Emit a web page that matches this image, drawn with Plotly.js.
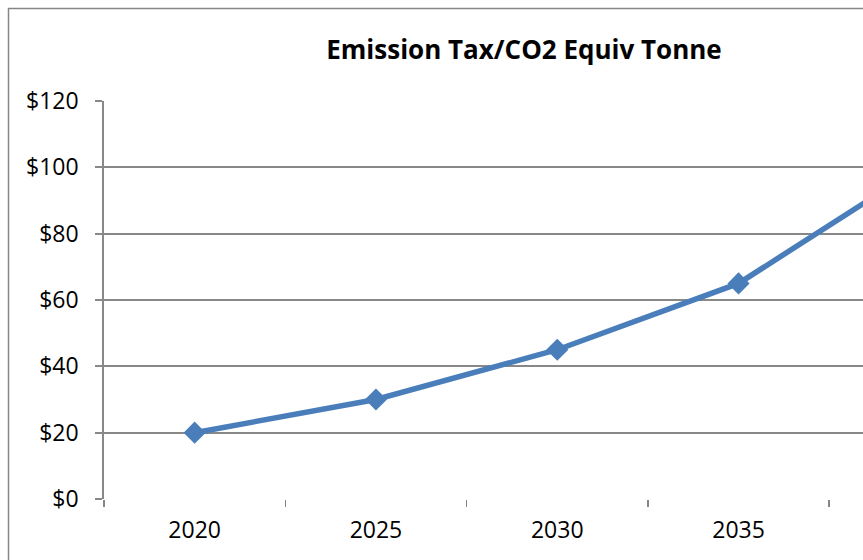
<!DOCTYPE html>
<html>
<head>
<meta charset="utf-8">
<script src="https://cdn.plot.ly/plotly-3.0.1.min.js"></script>
<style>html,body{margin:0;padding:0;background:#fff;}#chart{width:863px;height:560px;}</style>
</head>
<body>
<div id="chart"></div>
<script>
const years = ["2020", "2025", "2030", "2035", "2040"];
const taxPerTonne = [20, 30, 45, 65, 100];
const yTickValues = [0, 20, 40, 60, 80, 100, 120];
const yTickLabels = ["$0", "$20", "$40", "$60", "$80", "$100", "$120"];
const chartTitle = "Emission Tax/CO2 Equiv Tonne";

const W = 863, H = 560;
const L = 104, R = 0, T = 101, B = 61;
const pw = W - L - R, ph = H - T - B;
const px = v => (v - L) / pw;
const py = v => (H - B - v) / ph;

const trace = {
  x: years,
  y: taxPerTonne,
  type: "scatter",
  mode: "lines+markers",
  line: {color: "#4A7EBB", width: 5.5},
  marker: {symbol: "diamond", size: 17, color: "#4A7EBB"},
  hoverinfo: "skip"
};

const layout = {
  width: W, height: H,
  margin: {l: L, r: R, t: T, b: B, pad: 0},
  paper_bgcolor: "#ffffff",
  plot_bgcolor: "#ffffff",
  showlegend: false,
  font: {family: "Open Sans, sans-serif", color: "#000000", size: 23},
  title: {
    text: "<b>" + chartTitle + "</b>",
    font: {family: "Open Sans, sans-serif", size: 26, color: "#000000"},
    x: 524 / W, xref: "container", xanchor: "center",
    y: 1 - 50 / H, yref: "container", yanchor: "middle"
  },
  xaxis: {
    type: "category",
    range: [-0.5, -0.5 + pw / 181.3],
    showgrid: false,
    showline: false,
    zeroline: false,
    ticks: "outside",
    tickson: "boundaries",
    ticklen: 7,
    tickcolor: "#868686",
    tickwidth: 1.5,
    ticklabelstandoff: 15,
    tickfont: {size: 23},
    fixedrange: true
  },
  yaxis: {
    range: [0, 120],
    tickmode: "array",
    tickvals: yTickValues,
    ticktext: yTickLabels,
    showgrid: true,
    gridcolor: "#888888",
    gridwidth: 1.8,
    showline: true,
    linecolor: "#888888",
    linewidth: 1.8,
    zeroline: false,
    ticks: "outside",
    ticklen: 7,
    tickcolor: "#888888",
    tickwidth: 1.8,
    ticklabelstandoff: 12,
    tickfont: {size: 23},
    fixedrange: true
  },
  shapes: [
    {
      type: "rect", xref: "paper", yref: "paper",
      x0: px(8.5), x1: px(W + 50), y0: py(H + 50), y1: py(8.5),
      line: {color: "#868686", width: 1.5},
      fillcolor: "rgba(0,0,0,0)", layer: "below"
    }
  ]
};

Plotly.newPlot("chart", [trace], layout, {displayModeBar: false, staticPlot: true});
</script>
</body>
</html>
